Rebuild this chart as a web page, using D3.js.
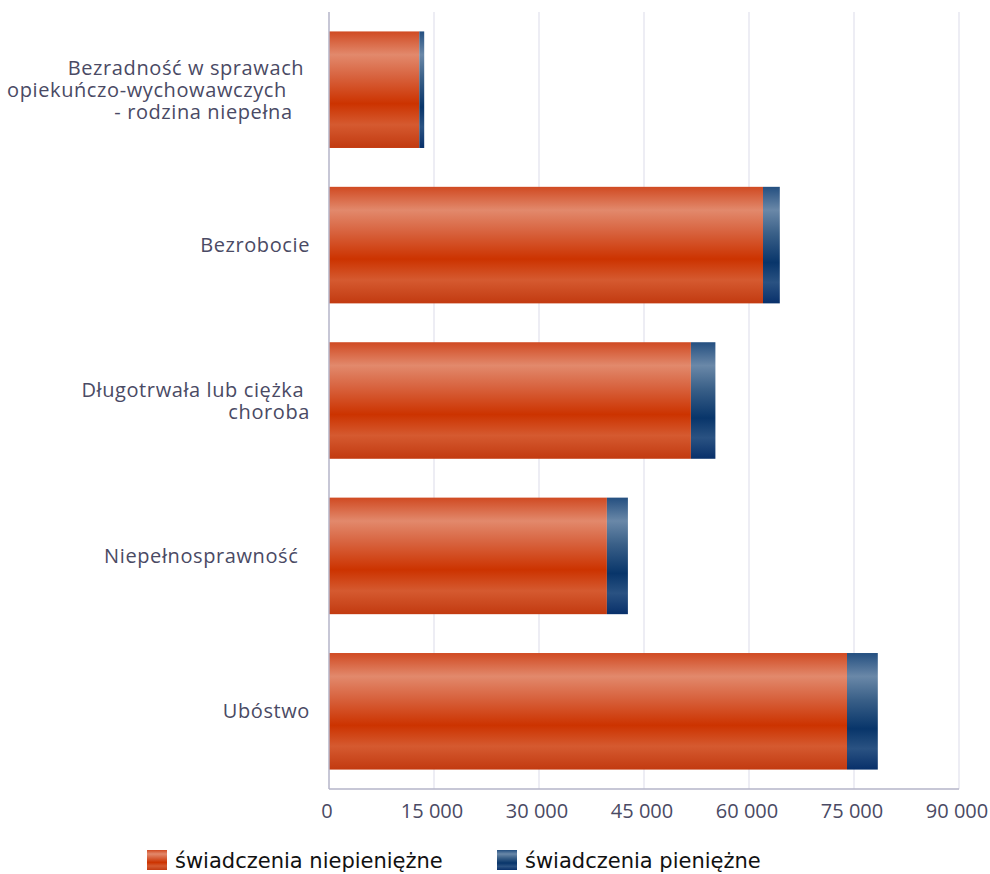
<!DOCTYPE html>
<html><head><meta charset="utf-8">
<script src="https://cdn.jsdelivr.net/npm/d3@7"></script>
<style>body{margin:0;background:#fff}svg{display:block}</style>
</head><body>
<script>
const categories = [
  ["Bezradność w sprawach ", "opiekuńczo-wychowawczych    ", "- rodzina niepełna   "],
  ["Bezrobocie"],
  ["Długotrwała lub ciężka ", "choroba"],
  ["Niepełnosprawność  "],
  ["Ubóstwo"]
];
const catKeys = ["Bezradność", "Bezrobocie", "Długotrwała", "Niepełnosprawność", "Ubóstwo"];
const niepieniezne = [12900, 62000, 51700, 39700, 74000];
const pieniezne = [700, 2400, 3500, 3000, 4400];
const seriesNames = ["świadczenia niepieniężne", "świadczenia pieniężne"];
const tickValues = [0, 15000, 30000, 45000, 60000, 75000, 90000];

const W = 990, H = 874;
const svg = d3.select("body").append("svg").attr("width", W).attr("height", H);
const font = "'Open Sans', sans-serif";
const defs = svg.append("defs");
function grad(id, stops) {
  const g = defs.append("linearGradient").attr("id", id).attr("x1", 0).attr("y1", 0).attr("x2", 0).attr("y2", 1);
  stops.forEach(s => g.append("stop").attr("offset", s[0]).attr("stop-color", s[1]));
}
grad("gOr", [[0, "#d04a22"], [0.2, "#e2896c"], [0.38, "#d86440"], [0.62, "#cc3300"], [0.8, "#d55a30"], [1, "#c23a10"]]);
grad("gBl", [[0, "#244f80"], [0.2, "#6a88a8"], [0.4, "#3a6088"], [0.65, "#08356a"], [0.82, "#2a5282"], [1, "#08306a"]]);

const x = d3.scaleLinear().domain([0, 90000]).range([329, 959]);
const y = d3.scaleBand().domain(catKeys).range([12, 789]).paddingInner(0.25).paddingOuter(0.125);

// grid
svg.append("g").selectAll("line").data(tickValues.slice(1)).join("line")
  .attr("x1", d => x(d)).attr("x2", d => x(d)).attr("y1", 12).attr("y2", 789)
  .attr("stroke", "#e4e4ee").attr("stroke-width", 1.3);

// bars
const bars = svg.append("g");
catKeys.forEach((k, i) => {
  bars.append("rect").attr("x", x(0)).attr("y", y(k)).attr("width", x(niepieniezne[i]) - x(0))
    .attr("height", y.bandwidth()).attr("fill", "url(#gOr)");
  bars.append("rect").attr("x", x(niepieniezne[i])).attr("y", y(k))
    .attr("width", x(niepieniezne[i] + pieniezne[i]) - x(niepieniezne[i]))
    .attr("height", y.bandwidth()).attr("fill", "url(#gBl)");
});

// axes lines
svg.append("line").attr("x1", 329).attr("x2", 329).attr("y1", 12).attr("y2", 789).attr("stroke", "#b4b4c8").attr("stroke-width", 1.5);
svg.append("line").attr("x1", 329).attr("x2", 959).attr("y1", 789).attr("y2", 789).attr("stroke", "#b4b4c8").attr("stroke-width", 1.5);

// x tick labels
const fmt = d => d3.format(",")(d).replace(/,/g, " ");
svg.append("g").selectAll("text").data(tickValues).join("text")
  .attr("x", d => x(d) - 2).attr("y", 818).attr("text-anchor", "middle")
  .attr("font-family", font).attr("font-size", 20).attr("fill", "#4a4a64")
  .text(fmt);

// category labels
catKeys.forEach((k, i) => {
  const lines = categories[i];
  const cy = y(k) + y.bandwidth() / 2;
  const lh = 22;
  lines.forEach((ln, j) => {
    svg.append("text").attr("font-family", font).attr("font-size", 20).attr("fill", "#4a4a64")
      .attr("letter-spacing", 0.6).attr("text-anchor", "end").style("white-space", "pre")
      .attr("x", 310).attr("y", cy + (j - (lines.length - 1) / 2) * lh + 7).text(ln);
  });
});

// legend
const leg = [[147, "url(#gOr)", seriesNames[0]], [497, "url(#gBl)", seriesNames[1]]];
leg.forEach(l => {
  svg.append("rect").attr("x", l[0]).attr("y", 850).attr("width", 20).attr("height", 20).attr("fill", l[1]);
  svg.append("text").attr("x", l[0] + 28).attr("y", 868).attr("font-family", "'DejaVu Sans', sans-serif").attr("font-size", 21)
    .attr("fill", "#111").text(l[2]);
});
</script>
</body></html>
